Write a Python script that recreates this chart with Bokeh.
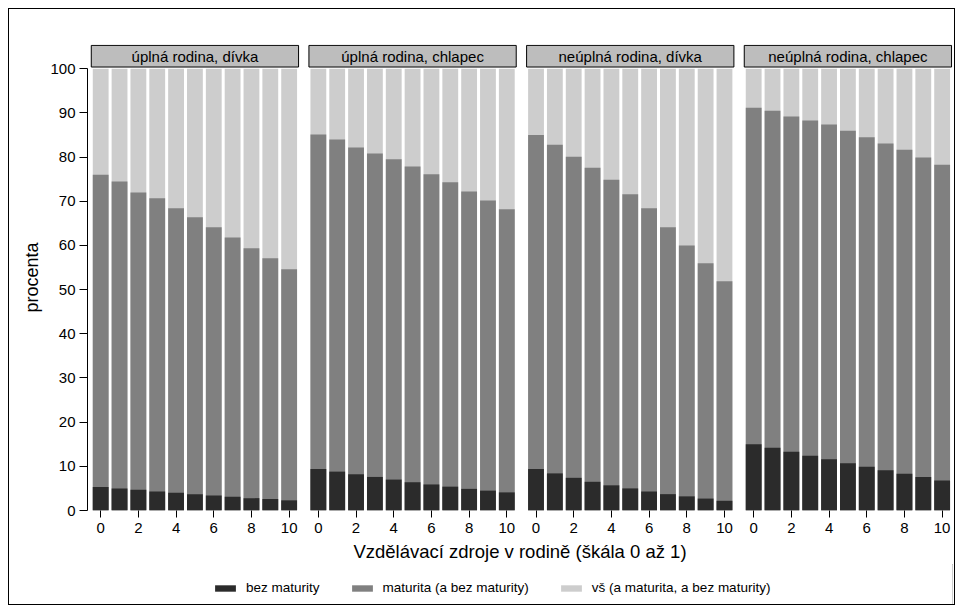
from bokeh.plotting import figure
from bokeh.layouts import column
from bokeh.models import (ColumnDataSource, FixedTicker, CustomJSTickFormatter,
                          Legend, LegendItem, Range1d)
from bokeh.core.properties import value
from bokeh.embed import file_html
from bokeh.resources import INLINE

# Panels (family type, sex of the child)
panels = ["úplná rodina, dívka", "úplná rodina, chlapec",
          "neúplná rodina, dívka", "neúplná rodina, chlapec"]

# Educational resources in the family, scale points
skala = [0, 1, 2, 3, 4, 5, 6, 7, 8, 9, 10]
tick_values = [0, 2, 4, 6, 8, 10]

# Cumulative shares in percent, one list per panel
bez_maturity = [
    [5.3, 5.0, 4.7, 4.3, 4.0, 3.7, 3.4, 3.1, 2.8, 2.6, 2.3],
    [9.4, 8.8, 8.2, 7.6, 7.0, 6.4, 5.9, 5.4, 4.9, 4.5, 4.1],
    [9.4, 8.4, 7.4, 6.5, 5.7, 5.0, 4.3, 3.7, 3.2, 2.7, 2.2],
    [15.0, 14.2, 13.3, 12.4, 11.6, 10.7, 9.9, 9.1, 8.3, 7.6, 6.8],
]
maturita = [
    [76.0, 74.5, 72.0, 70.7, 68.4, 66.4, 64.1, 61.8, 59.4, 57.1, 54.6],
    [85.1, 84.0, 82.2, 80.8, 79.5, 77.9, 76.1, 74.3, 72.2, 70.2, 68.2],
    [85.0, 82.8, 80.1, 77.6, 74.9, 71.6, 68.4, 64.1, 60.0, 56.0, 51.9],
    [91.2, 90.5, 89.2, 88.3, 87.4, 86.0, 84.5, 83.1, 81.7, 79.9, 78.3],
]
vs = [
    [100, 100, 100, 100, 100, 100, 100, 100, 100, 100, 100],
    [100, 100, 100, 100, 100, 100, 100, 100, 100, 100, 100],
    [100, 100, 100, 100, 100, 100, 100, 100, 100, 100, 100],
    [100, 100, 100, 100, 100, 100, 100, 100, 100, 100, 100],
]

series_labels = ["bez maturity", "maturita (a bez maturity)",
                 "vš (a maturita, a bez maturity)"]
colors = ["#2b2b2b", "#808080", "#cdcdcd"]

FONT = "Liberation Sans"
STEP = 11.55          # horizontal offset between panels (in scale units)
BAR_W = 0.84

xs, b_vals, m_vals, v_vals = [], [], [], []
for i in range(len(panels)):
    for k, s in enumerate(skala):
        xs.append(i * STEP + s)
        b_vals.append(bez_maturity[i][k])
        m_vals.append(maturita[i][k])
        v_vals.append(vs[i][k])

src = ColumnDataSource(dict(x=xs, bez=b_vals, mat=m_vals, vs=v_vals))

strip_src = ColumnDataSource(dict(
    left=[i * STEP - 0.5 for i in range(len(panels))],
    right=[i * STEP + 10.5 for i in range(len(panels))],
    cx=[i * STEP + 5 for i in range(len(panels))],
    label=panels,
))

p = figure(width=945, height=555, output_backend="svg", toolbar_location=None,
           x_range=Range1d(-0.7, 3 * STEP + 10.55), y_range=Range1d(0, 105.5),
           min_border_left=78, min_border_top=35, min_border_right=2,
           min_border_bottom=51)
p.background_fill_color = "white"
p.border_fill_color = "white"
p.outline_line_color = None
p.grid.visible = False

r_vs = p.vbar(x="x", top="vs", bottom=0, width=BAR_W, source=src,
              fill_color=colors[2], line_color=None)
r_mat = p.vbar(x="x", top="mat", bottom=0, width=BAR_W, source=src,
               fill_color=colors[1], line_color=None)
r_bez = p.vbar(x="x", top="bez", bottom=0, width=BAR_W, source=src,
               fill_color=colors[0], line_color=None)

# panel header strips
p.quad(left="left", right="right", bottom=100.4, top=105.3, source=strip_src,
       fill_color="#bdbdbd", line_color="black", line_width=1)
p.text(x="cx", y=102.85, text="label", source=strip_src,
       text_align="center", text_baseline="middle",
       text_font=value(FONT), text_font_size="15px", text_color="black")

# x axis: repeated 0..10 ticks under each panel
p.xaxis.ticker = FixedTicker(ticks=[i * STEP + t for i in range(len(panels))
                                    for t in tick_values])
p.xaxis.formatter = CustomJSTickFormatter(code="""
    const step = %s;
    const i = Math.floor((tick + 1) / step);
    return String(Math.round(tick - i * step));
""" % STEP)
p.xaxis.axis_line_color = None
p.xaxis.major_tick_in = 0
p.xaxis.major_tick_out = 7
p.xaxis.minor_tick_line_color = None
p.xaxis.major_label_standoff = 5
p.xaxis.axis_label = "Vzdělávací zdroje v rodině (škála 0 až 1)"
p.xaxis.axis_label_standoff = 5
p.xaxis.axis_label_text_font_style = "normal"

p.yaxis.ticker = FixedTicker(ticks=[0, 10, 20, 30, 40, 50, 60, 70, 80, 90, 100])
p.yaxis.bounds = (0, 100)
p.yaxis.major_tick_in = 0
p.yaxis.major_tick_out = 8
p.yaxis.minor_tick_line_color = None
p.yaxis.major_label_standoff = 4
p.yaxis.axis_label = "procenta"
p.yaxis.axis_label_standoff = 5
p.yaxis.axis_label_text_font_style = "normal"

for ax in (p.xaxis[0], p.yaxis[0]):
    ax.major_label_text_font = FONT
    ax.major_label_text_font_size = "15px"
    ax.major_label_text_color = "black"
    ax.axis_label_text_font = FONT
    ax.axis_label_text_font_size = "18.5px"
    ax.axis_label_text_color = "black"
    ax.major_tick_line_color = "black"
p.yaxis.axis_label_text_font_size = "18px"

# legend strip under the chart; the swatches reuse the bar glyph styles,
# the bars themselves lie outside this strip's x range
lg = figure(width=945, height=40, output_backend="svg", toolbar_location=None,
            x_range=Range1d(-30, -29), y_range=Range1d(0, 1),
            x_axis_location=None, y_axis_location=None,
            min_border_left=0, min_border_right=0, min_border_top=0,
            min_border_bottom=0)
lg.outline_line_color = None
lg.grid.visible = False
l_bez = lg.vbar(x="x", top="bez", bottom=0, width=BAR_W, source=src,
                fill_color=colors[0], line_color=None)
l_mat = lg.vbar(x="x", top="mat", bottom=0, width=BAR_W, source=src,
                fill_color=colors[1], line_color=None)
l_vs = lg.vbar(x="x", top="vs", bottom=0, width=BAR_W, source=src,
               fill_color=colors[2], line_color=None)

legend = Legend(items=[LegendItem(label=series_labels[0], renderers=[l_bez]),
                       LegendItem(label=series_labels[1], renderers=[l_mat]),
                       LegendItem(label=series_labels[2], renderers=[l_vs])],
                orientation="horizontal", location=(125, 9))
legend.label_text_font = FONT
legend.label_text_font_size = "13.5px"
legend.label_text_color = "black"
legend.glyph_width = 26
legend.glyph_height = 8
legend.label_standoff = 8
legend.spacing = 29
legend.padding = 4
legend.margin = 0
legend.border_line_color = None
legend.background_fill_alpha = 0
lg.add_layout(legend)

layout = column(p, lg, spacing=0)
layout.margin = (8, 0, 0, 8)
layout.styles = {"border": "1px solid #000000"}

open("out.html", "w").write(file_html(layout, INLINE))
